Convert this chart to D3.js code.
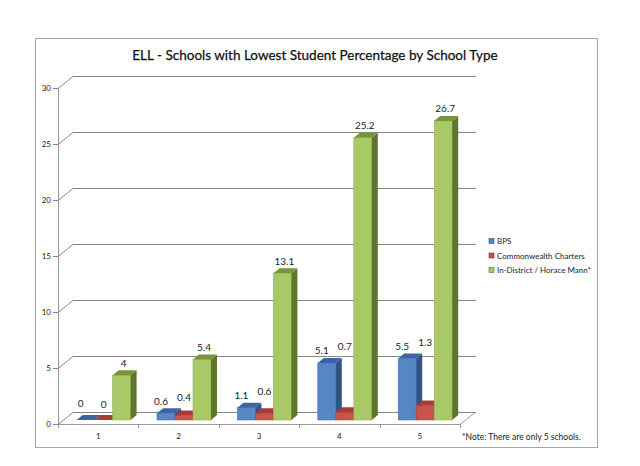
<!DOCTYPE html>
<html lang="en">
  <head>
    <meta charset="UTF-8" />
    <title>ELL - Schools with Lowest Student Percentage by School Type</title>
    <script src="https://d3js.org/d3.v7.min.js"></script>
    <style>
      body {
        margin: 0;
        padding: 0;
        background: #fff;
      }
      svg {
        display: block;
        font-family: Lato, "Open Sans", sans-serif;
      }
    </style>
  </head>
  <body>
    <svg width="640" height="466"></svg>
    <script>
      const categories = ["1", "2", "3", "4", "5"];
      const seriesNames = ["BPS", "Commonwealth Charters", "In-District / Horace Mann*"];
      const bps = [0, 0.6, 1.1, 5.1, 5.5];
      const charters = [0, 0.4, 0.6, 0.7, 1.3];
      const inDistrict = [4, 5.4, 13.1, 25.2, 26.7];
      const yTicks = [0, 5, 10, 15, 20, 25, 30];

      const seriesValues = [bps, charters, inDistrict];
      // front, side, top
      const faceColors = [
        ["#5587c6", "#2f5384", "#3b66a3"],
        ["#c9524f", "#8a2c2a", "#a73b38"],
        ["#a9c966", "#5c762c", "#769638"],
      ];

      const svg = d3.select("svg");

      // outer frame
      svg.append("rect")
        .attr("x", 35.5).attr("y", 38.5)
        .attr("width", 562).attr("height", 409)
        .attr("fill", "#fff").attr("stroke", "#a6a6a6");

      svg.append("text")
        .attr("x", 315).attr("y", 60)
        .attr("text-anchor", "middle")
        .attr("font-size", 13.5)
        .attr("fill", "#111")
        .attr("stroke", "#111")
        .attr("stroke-width", 0.25)
        .text("ELL - Schools with Lowest Student Percentage by School Type");

      const x = d3.scaleBand().domain(categories).range([58, 460]);
      const y = d3.scaleLinear().domain([0, 30]).range([424, 88]);
      const inner = d3.scaleBand().domain(d3.range(3)).range([18.6, 72.6]);

      const back = { dx: 15, dy: -12 };   // wall depth
      const barShift = -4;                // bars sit a little behind the front edge
      const bd = { dx: 6, dy: -5 };       // bar depth

      const grid = svg.append("g").attr("fill", "none").attr("stroke", "#868686");

      yTicks.forEach((t) => {
        const yy = y(t) + 0.5;
        grid.append("path")
          .attr("d", `M58,${yy}L${58 + back.dx},${yy + back.dy}L${476},${yy + back.dy}`);
        grid.append("line")
          .attr("x1", 53).attr("x2", 58)
          .attr("y1", yy).attr("y2", yy);
      });

      // left axis and floor
      grid.append("line")
        .attr("x1", 58.5).attr("x2", 58.5)
        .attr("y1", y(0)).attr("y2", y(30))
        .attr("stroke", "#9a9a9a");
      grid.append("path")
        .attr("d", `M58,${y(0) + 0.5}L460,${y(0) + 0.5}L${460 + back.dx},${y(0) + 0.5 + back.dy}`)
        .attr("stroke", "#9a9a9a");
      categories.concat(["end"]).forEach((c, i) => {
        const xx = Math.round(58 + i * x.bandwidth()) + 0.5;
        grid.append("line")
          .attr("x1", xx).attr("x2", xx)
          .attr("y1", y(0)).attr("y2", y(0) + 4)
          .attr("stroke", "#9a9a9a");
      });

      svg.append("g")
        .selectAll("text")
        .data(yTicks)
        .join("text")
        .attr("x", 51)
        .attr("y", (d) => y(d) + 3)
        .attr("text-anchor", "end")
        .attr("font-size", 8)
        .attr("fill", "#222")
        .text((d) => d);

      svg.append("g")
        .selectAll("text")
        .data(categories)
        .join("text")
        .attr("x", (d) => x(d) + x.bandwidth() / 2)
        .attr("y", 439)
        .attr("text-anchor", "middle")
        .attr("font-size", 8)
        .attr("fill", "#222")
        .text((d) => d);

      // bars
      const bars = svg.append("g");
      categories.forEach((c, ci) => {
        seriesValues.forEach((vals, si) => {
          const x0 = x(c) + inner(si);
          const w = inner.bandwidth();
          const yb = y(0) + barShift;
          const yt = y(vals[ci]) + barShift;
          const col = faceColors[si];
          bars.append("rect")
            .attr("x", x0).attr("y", yt)
            .attr("width", w).attr("height", yb - yt)
            .attr("fill", col[0])
            .attr("stroke", d3.color(col[0]).darker(0.4))
            .attr("stroke-width", 0.6);
          bars.append("path")
            .attr("d", `M${x0 + w},${yb}L${x0 + w + bd.dx},${yb + bd.dy}L${x0 + w + bd.dx},${yt + bd.dy}L${x0 + w},${yt}Z`)
            .attr("fill", col[1]);
          bars.append("path")
            .attr("d", `M${x0},${yt}L${x0 + bd.dx},${yt + bd.dy}L${x0 + w + bd.dx},${yt + bd.dy}L${x0 + w},${yt}Z`)
            .attr("fill", col[2]);
        });
      });

      // value labels
      const labelNudge = [-8, -3, -1];
      const labels = svg.append("g")
        .attr("font-size", 10)
        .attr("text-anchor", "middle")
        .attr("fill", "#1b1b2a");
      categories.forEach((c, ci) => {
        let blueTop = null;
        seriesValues.forEach((vals, si) => {
          const topBack = y(vals[ci]) + barShift + bd.dy;
          let cy = topBack - 7;
          if (si === 0) {
            blueTop = topBack;
            cy = Math.min(cy, y(0) - 21);
          }
          if (si === 1) cy = Math.min(cy, blueTop - 11);
          labels.append("text")
            .attr("x", x(c) + inner(si) + inner.bandwidth() / 2 + bd.dx / 2 + labelNudge[si])
            .attr("y", cy + 3.5)
            .text(vals[ci]);
        });
      });

      // legend
      const legend = svg.append("g")
        .selectAll("g")
        .data(seriesNames)
        .join("g")
        .attr("transform", (d, i) => `translate(489,${241 + i * 14.5})`);
      legend.append("rect")
        .attr("x", 0).attr("y", -2.5)
        .attr("width", 5).attr("height", 5)
        .attr("fill", (d, i) => faceColors[i][0])
        .attr("stroke", (d, i) => faceColors[i][1])
        .attr("stroke-width", 0.6);
      legend.append("text")
        .attr("x", 8).attr("y", 3)
        .attr("font-size", 8)
        .attr("fill", "#222")
        .text((d) => d);

      svg.append("text")
        .attr("x", 462).attr("y", 440)
        .attr("font-size", 8.5)
        .attr("fill", "#222")
        .text("*Note: There are only 5 schools.");
    </script>
  </body>
</html>
